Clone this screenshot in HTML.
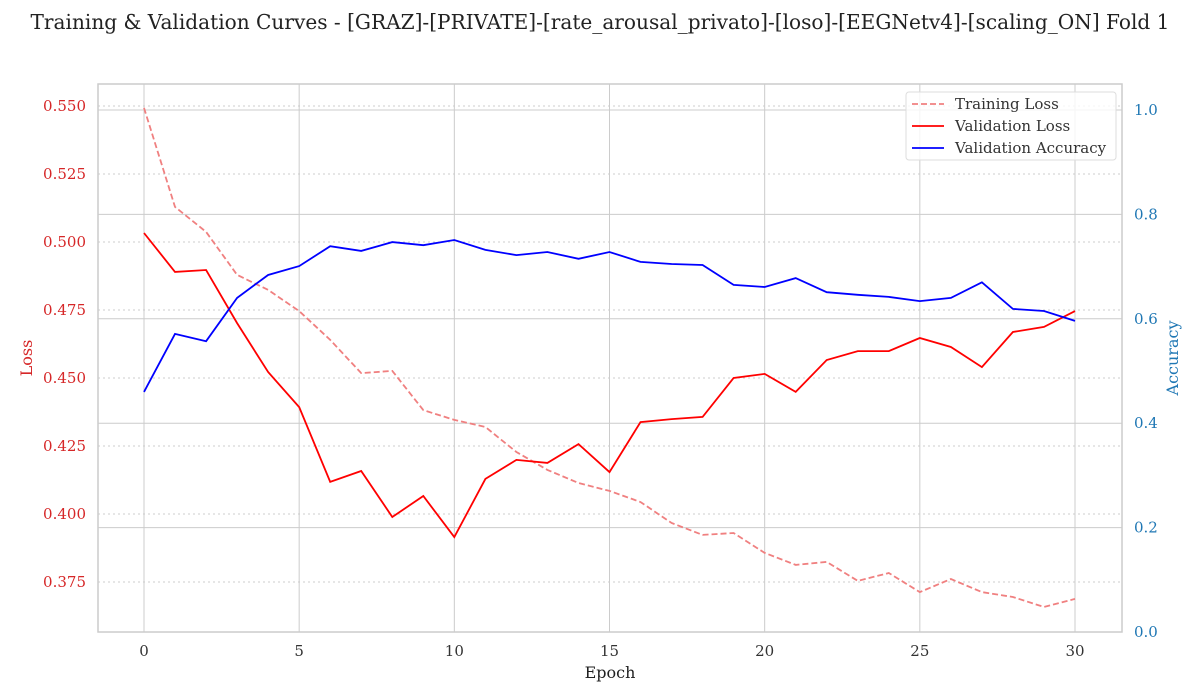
<!DOCTYPE html>
<html><head><meta charset="utf-8"><style>
body{margin:0;background:#fff}
svg{display:block;font-family:"DejaVu Serif","Liberation Serif",serif}
</style></head><body>
<svg id="c" width="1200" height="700" xmlns="http://www.w3.org/2000/svg"></svg>
<script>
const epochs=[0,1,2,3,4,5,6,7,8,9,10,11,12,13,14,15,16,17,18,19,20,21,22,23,24,25,26,27,28,29,30];
const trainLoss=[0.5493,0.5129,0.5037,0.4879,0.4824,0.4746,0.4640,0.4518,0.4526,0.4382,0.4346,0.4320,0.4228,0.4162,0.4114,0.4085,0.4044,0.3967,0.3923,0.3930,0.3857,0.3813,0.3824,0.3754,0.3783,0.3713,0.3761,0.3713,0.3695,0.3658,0.3688];
const valLoss=[0.5033,0.4890,0.4897,0.4702,0.4522,0.4393,0.4118,0.4158,0.3989,0.4066,0.3915,0.4129,0.4199,0.4188,0.4257,0.4154,0.4338,0.4349,0.4357,0.4500,0.4515,0.4449,0.4566,0.4599,0.4599,0.4647,0.4614,0.4540,0.4669,0.4688,0.4746];
const valAcc=[0.460,0.571,0.557,0.640,0.684,0.701,0.739,0.730,0.747,0.741,0.751,0.732,0.722,0.728,0.715,0.728,0.709,0.705,0.703,0.665,0.661,0.678,0.651,0.646,0.642,0.634,0.640,0.670,0.619,0.615,0.596];
const xTicks=[0,5,10,15,20,25,30];
const lossTicks=[0.375,0.400,0.425,0.450,0.475,0.500,0.525,0.550];
const accTicks=[0.0,0.2,0.4,0.6,0.8,1.0];

const L=98,R=1122,T=84,B=632;
const xs=e=>144+(e-0)*(1075-144)/30;
const yL=v=>242+(0.5-v)*2720;
const yR=v=>632-v*522;
const svg=document.getElementById('c');
const NS='http://www.w3.org/2000/svg';
function mk(tag,attrs,parent){const el=document.createElementNS(NS,tag);for(const k in attrs)el.setAttribute(k,attrs[k]);(parent||svg).appendChild(el);return el;}
function txt(s,attrs){const t=mk('text',attrs);t.textContent=s;return t;}

let t=txt('Training & Validation Curves - [GRAZ]-[PRIVATE]-[rate_arousal_privato]-[loso]-[EEGNetv4]-[scaling_ON] Fold 1',{x:600,y:29,'text-anchor':'middle','font-size':20.1,fill:'#222'});



xTicks.forEach(e=>{const l=mk('line',{x1:xs(e),x2:xs(e),y1:T,y2:B,stroke:'#cccccc','stroke-width':1});

});
accTicks.forEach(v=>{const l=mk('line',{x1:L,x2:R,y1:yR(v),y2:yR(v),stroke:'#cccccc','stroke-width':1});

});
lossTicks.forEach(v=>{const l=mk('line',{x1:L,x2:R,y1:yL(v),y2:yL(v),stroke:'#cccccc','stroke-width':1,'stroke-dasharray':'2,3'});

});
const fr=mk('rect',{x:L,y:T,width:R-L,height:B-T,fill:'none',stroke:'#cccccc','stroke-width':1.5});



xTicks.forEach(e=>{const s=txt(String(e),{x:xs(e),y:656,'text-anchor':'middle','font-size':15,fill:'#333'});

});
lossTicks.forEach(v=>{const s=txt(v.toFixed(3),{x:86,y:yL(v)+5,'text-anchor':'end','font-size':15,fill:'#d62728'});

});
accTicks.forEach(v=>{const s=txt(v.toFixed(1),{x:1134,y:yR(v)+5,'font-size':15,fill:'#1f77b4'});

});

t=txt('Epoch',{x:610,y:678,'text-anchor':'middle','font-size':16,fill:'#222'});


t=txt('Loss',{x:0,y:0,'text-anchor':'middle','font-size':16,fill:'#d62728',transform:'translate(32,358) rotate(-90)'});


t=txt('Accuracy',{x:0,y:0,'text-anchor':'middle','font-size':16,fill:'#1f77b4',transform:'translate(1178,358) rotate(-90)'});



function series(vals,yf,color,dash,name){
  const d=vals.map((v,i)=>(i?'L':'M')+xs(epochs[i]).toFixed(1)+','+yf(v).toFixed(1)).join(' ');
  const p=mk('path',{d,fill:'none',stroke:color,'stroke-width':1.8});
  if(dash)p.setAttribute('stroke-dasharray',dash);
  
  
}
series(trainLoss,yL,'#f08080','6,3','training-loss-line');
series(valLoss,yL,'#ff0000',null,'validation-loss-line');
series(valAcc,yR,'#0000ff',null,'validation-accuracy-line');

const lg=mk('g',{});


mk('rect',{x:906,y:92,width:210,height:68,rx:3,fill:'#fff','fill-opacity':0.8,stroke:'#dddddd'},lg);
const items=[['Training Loss','#f08080','6,3'],['Validation Loss','#ff0000',null],['Validation Accuracy','#0000ff',null]];
items.forEach((it,i)=>{const y=104+i*22;
  const l=mk('line',{x1:912,x2:944,y1:y,y2:y,stroke:it[1],'stroke-width':1.8},lg);
  if(it[2])l.setAttribute('stroke-dasharray',it[2]);
  const s=mk('text',{x:955,y:y+5,'font-size':15,fill:'#333'},lg);s.textContent=it[0];
  
  
});
</script>
</body></html>
